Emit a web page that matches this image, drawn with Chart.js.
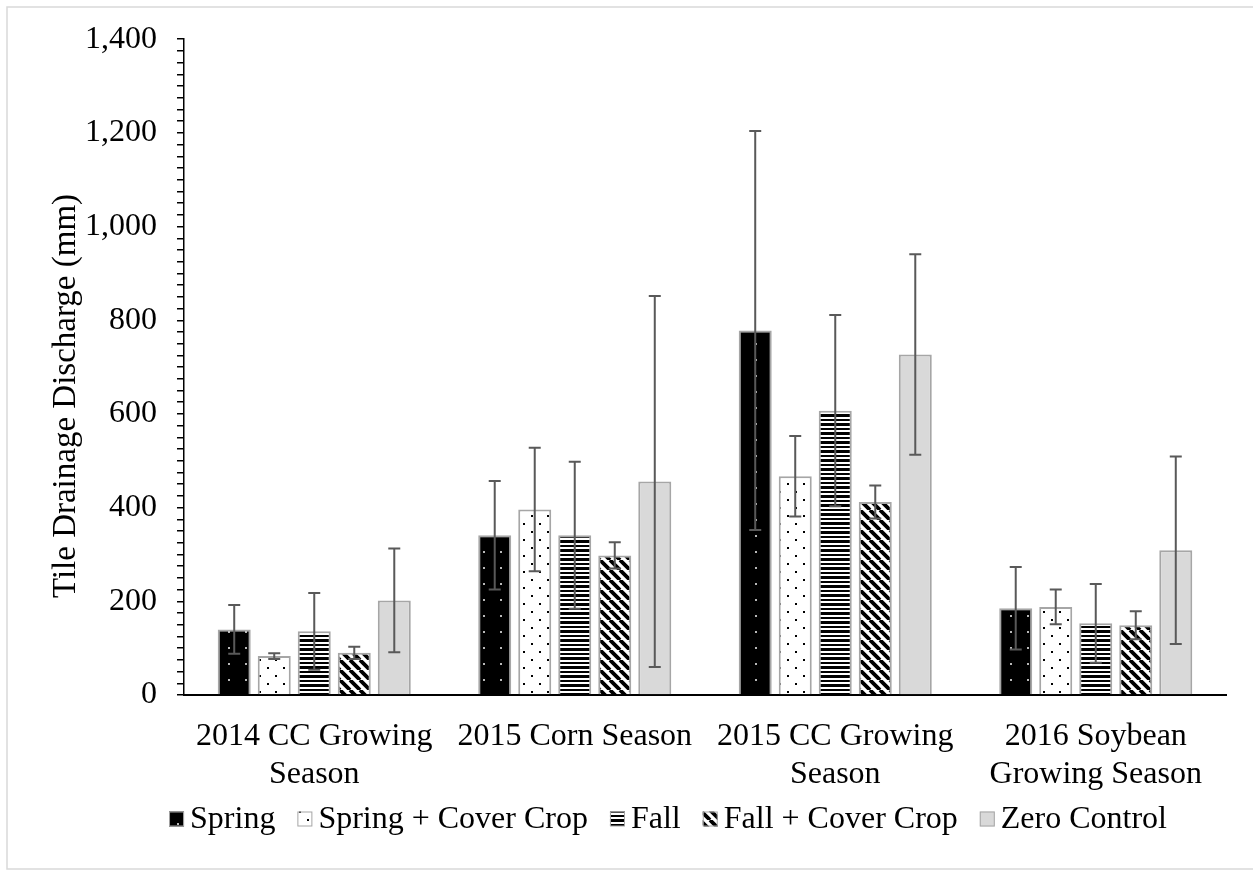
<!DOCTYPE html>
<html>
<head>
<meta charset="utf-8">
<script src="https://cdn.jsdelivr.net/npm/chart.js@4/dist/chart.umd.min.js"></script>
<style>
  html, body { margin: 0; padding: 0; background: #fff; }
  #wrap { width: 1253px; height: 871px; position: relative; }
</style>
</head>
<body>
<div id="wrap"><canvas id="c"></canvas></div>
<script>
// ---- data ----
const categories = [
  ['2014 CC Growing', 'Season'],
  ['2015 Corn Season'],
  ['2015 CC Growing', 'Season'],
  ['2016 Soybean', 'Growing Season']
];
const seriesNames = ['Spring', 'Spring + Cover Crop', 'Fall', 'Fall + Cover Crop', 'Zero Control'];
const springValues = [140, 341, 778, 185];
const springErrors = [52, 116, 426, 88];
const springCCValues = [83, 396, 467, 188];
const springCCErrors = [6, 132, 86, 37];
const fallValues = [136, 341, 607, 153];
const fallErrors = [82, 157, 204, 84];
const fallCCValues = [90, 298, 412, 149];
const fallCCErrors = [13, 28, 35, 30];
const zeroValues = [202, 456, 727, 309];
const zeroErrors = [111, 396, 214, 200];
const yMin = 0, yMax = 1400, yMajorStep = 200, yMinorStep = 25;
const yTitle = 'Tile Drainage Discharge (mm)';

// ---- patterns ----
function tile(w, h, draw) {
  const c = document.createElement('canvas');
  c.width = w; c.height = h;
  const x = c.getContext('2d');
  draw(x, w, h);
  return document.createElement('canvas').getContext('2d').createPattern(c, 'repeat');
}
const patSpring = tile(17, 16, (x, w, h) => {
  x.fillStyle = '#000'; x.fillRect(0, 0, w, h);
  x.fillStyle = '#b8b8b8'; x.fillRect(7, 7, 2, 2);
});
const patSpringCC = tile(16, 16, (x, w, h) => {
  x.fillStyle = '#fff'; x.fillRect(0, 0, w, h);
  x.fillStyle = '#000'; x.fillRect(3, 3, 2, 2); x.fillRect(11, 11, 2, 2);
});
const patFall = tile(4, 9, (x, w, h) => {
  x.fillStyle = '#fff'; x.fillRect(0, 0, w, h);
  x.fillStyle = '#000'; x.fillRect(0, 0, w, 3); x.fillRect(0, 5, w, 2);
});
const patFallCC = tile(10, 10, (x, w, h) => {
  x.fillStyle = '#fff'; x.fillRect(0, 0, w, h);
  x.strokeStyle = '#000'; x.lineWidth = 3.8;
  x.beginPath();
  for (const k of [-w, 0, w]) { x.moveTo(k, 0); x.lineTo(k + w, h); }
  x.stroke();
});
const fills = [patSpring, patSpringCC, patFall, patFallCC, '#d9d9d9'];
const valuesList = [springValues, springCCValues, fallValues, fallCCValues, zeroValues];
const errorsList = [springErrors, springCCErrors, fallErrors, fallCCErrors, zeroErrors];

const FONT = '"Liberation Serif", "Times New Roman", serif';

const datasets = seriesNames.map((n, i) => ({
  label: n,
  data: valuesList[i],
  errors: errorsList[i],
  backgroundColor: fills[i],
  borderColor: '#a6a6a6',
  borderWidth: 2,
  borderSkipped: 'start',
  categoryPercentage: 0.768,
  barPercentage: 0.825
}));

const errorBarPlugin = {
  id: 'errorBars',
  afterDatasetsDraw(chart) {
    const ctx = chart.ctx, ys = chart.scales.y;
    ctx.save();
    ctx.strokeStyle = '#595959';
    ctx.lineWidth = 2;
    chart.data.datasets.forEach((ds, di) => {
      const meta = chart.getDatasetMeta(di);
      meta.data.forEach((bar, j) => {
        const v = ds.data[j], e = ds.errors[j];
        const x = bar.x;
        const yt = ys.getPixelForValue(v + e), yb = ys.getPixelForValue(v - e);
        ctx.beginPath();
        ctx.moveTo(x, yt); ctx.lineTo(x, yb);
        ctx.moveTo(x - 6, yt); ctx.lineTo(x + 6, yt);
        ctx.moveTo(x - 6, yb); ctx.lineTo(x + 6, yb);
        ctx.stroke();
      });
    });
    ctx.restore();
  }
};

const framePlugin = {
  id: 'frame',
  beforeDraw(chart) {
    const ctx = chart.ctx;
    ctx.save();
    ctx.fillStyle = '#fff';
    ctx.fillRect(0, 0, chart.width, chart.height);
    ctx.strokeStyle = '#d9d9d9';
    ctx.lineWidth = 1.5;
    ctx.strokeRect(7, 7, chart.width + 10, chart.height - 9);
    ctx.restore();
  },
  afterDraw(chart) {
    const ctx = chart.ctx;
    ctx.save();
    // y axis title
    ctx.font = '33px ' + FONT;
    ctx.fillStyle = '#000';
    ctx.textAlign = 'center';
    ctx.textBaseline = 'middle';
    ctx.translate(66, 396);
    ctx.rotate(-Math.PI / 2);
    ctx.fillText(yTitle, 0, 0);
    ctx.restore();

    // legend
    ctx.save();
    ctx.font = '32px ' + FONT;
    ctx.textBaseline = 'middle';
    ctx.textAlign = 'left';
    const box = 15, gapText = 6, gapItem = 22;
    const widths = seriesNames.map(n => ctx.measureText(n).width);
    let total = 0;
    widths.forEach((w, i) => { total += box + gapText + w + (i < widths.length - 1 ? gapItem : 0); });
    let x = 668 - total / 2;
    const yc = 819;
    seriesNames.forEach((n, i) => {
      ctx.fillStyle = fills[i];
      ctx.fillRect(x, yc - box / 2, box, box);
      ctx.strokeStyle = '#a6a6a6';
      ctx.lineWidth = 1;
      ctx.strokeRect(x + 0.5, yc - box / 2 + 0.5, box - 1, box - 1);
      ctx.fillStyle = '#000';
      ctx.fillText(n, x + box + gapText, yc + 1);
      x += box + gapText + widths[i] + gapItem;
    });
    ctx.restore();
  }
};

new Chart(document.getElementById('c'), {
  type: 'bar',
  data: { labels: categories, datasets },
  options: {
    responsive: true,
    maintainAspectRatio: false,
    animation: false,
    devicePixelRatio: 1,
    layout: { padding: { top: 38, right: 27, left: 0, bottom: 0 } },
    plugins: { legend: { display: false }, tooltip: { enabled: false } },
    scales: {
      x: {
        grid: { display: false, drawTicks: false },
        border: { display: true, color: '#000', width: 2 },
        ticks: { color: '#000', font: { family: FONT, size: 32 }, padding: 22, maxRotation: 0, autoSkip: false },
        afterFit(s) { s.height = 176; }
      },
      y: {
        min: yMin, max: yMax,
        grid: { display: true, drawOnChartArea: false, drawTicks: true, tickLength: 7, color: '#000', lineWidth: 1.5 },
        border: { display: true, color: '#000', width: 1.5 },
        ticks: {
          stepSize: yMinorStep, autoSkip: false, color: '#000',
          font: { family: FONT, size: 32 }, padding: 20,
          callback: v => (v % yMajorStep === 0 ? v.toLocaleString('en-US') : '')
        },
        afterFit(s) { s.width = 184; }
      }
    }
  },
  plugins: [framePlugin, errorBarPlugin]
});
</script>
</body>
</html>
